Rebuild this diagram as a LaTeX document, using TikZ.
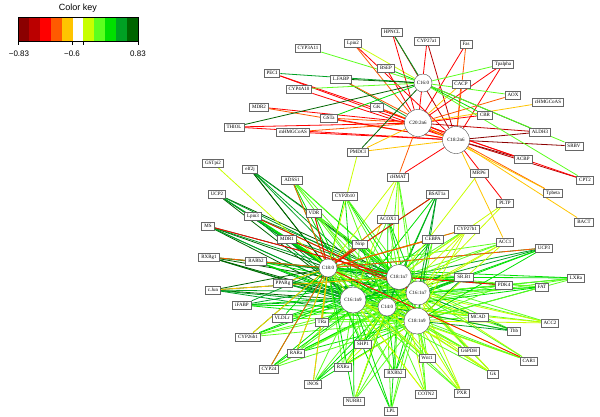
\documentclass[tikz,border=0pt]{standalone}
\usepackage{fontspec}
\setmainfont{Liberation Serif}
\setsansfont{Liberation Sans}
\usetikzlibrary{backgrounds}
\definecolor{kA}{HTML}{8B0000}
\definecolor{kB}{HTML}{BB0000}
\definecolor{kC}{HTML}{FF0000}
\definecolor{kD}{HTML}{FF5A00}
\definecolor{kE}{HTML}{FFC400}
\definecolor{kF}{HTML}{FFFFFF}
\definecolor{kG}{HTML}{C8FF00}
\definecolor{kH}{HTML}{5CFF1E}
\definecolor{kI}{HTML}{00E000}
\definecolor{kJ}{HTML}{00A024}
\definecolor{kK}{HTML}{006400}
\tikzset{
  hub/.style={circle, draw=black!70, fill=white, inner sep=0pt, font=\fontsize{5}{6}\selectfont},
  gene/.style={draw=black!60, line width=0.9pt, fill=white, inner xsep=2.5pt, inner ysep=0.8pt, minimum height=8pt, font=\fontsize{5}{6}\selectfont},
  link/.style={line width=0.8pt},
  keytext/.style={font=\sffamily\fontsize{8}{9}\selectfont},
}
\begin{document}
\begin{tikzpicture}[x=1pt,y=-1pt]
  \useasboundingbox (0,0) rectangle (600,416);

  % colour key
  \foreach \i/\c in {0/kA,1/kB,2/kC,3/kD,4/kE,5/kF,6/kG,7/kH,8/kI,9/kJ,10/kK}
    \fill[fill=\c] ({18+\i*120/11},17) rectangle ({18+(\i+1)*120/11},41);
  \draw[line width=0.5pt] (18,17) rectangle (138,41);
  \foreach \x in {18,72.55,83.45,138}
    \draw[line width=0.5pt] (\x,41) -- (\x,45);
  \node[font=\sffamily\fontsize{9}{10}\selectfont] (keytitle) at (78,8) {Color key};
  \node[keytext] (keylow) at (19,54) {−0.83};
  \node[keytext] (keymid) at (72,54) {−0.6};
  \node[keytext] (keyhigh) at (138,54) {0.83};

  % fatty acids
  \node[hub, minimum size=18pt] (h160) at (423,83) {C16:0};
  \node[hub, minimum size=27pt] (h202) at (418,123) {C20:2n6};
  \node[hub, minimum size=27pt] (h182) at (456,140) {C18:2n6};
  \node[hub, minimum size=18pt] (h180) at (328,268) {C18:0};
  \node[hub, minimum size=25pt] (h181a) at (399,277) {C18:1n7};
  \node[hub, minimum size=26pt] (h161n9) at (353,300) {C16:1n9};
  \node[hub, minimum size=18pt] (h140) at (387,307) {C14:0};
  \node[hub, minimum size=24pt] (h161n7) at (418,293) {C16:1n7};
  \node[hub, minimum size=26pt] (h181n9) at (417,321) {C18:1n9};

  % genes
  \foreach \n/\x/\y/\t in {
    cyp3a11/308/48/CYP3A11, lpin2/353/43/Lpin2, hpncl/392/32/HPNCL,
    cyp27a1/427/41/CYP27a1, fas/466/44/Fas, bsep/386/68/BSEP,
    peci/272/73/PECI, lfabp/341/79/L.FABP, cyp4a10/299/89/CYP4A10,
    tpalpha/503/64/Tpalpha, cacp/461/84/CACP, aox/513/95/AOX,
    chmgcoas/548/102/cHMGCoAS, mdr2/259/107/MDR2, gk/377/107/GK,
    gsta/329/118/GSTa, cbr/485/115/CBR, thiol/234/127/THIOL,
    mhmgcoas/293/132/mHMGCoAS, aldh3/540/132/ALDH3, srbv/574/146/SRBV,
    pmdci/358/152/PMDCI, acbp/523/159/ACBP, gstpi2/213/163/GSTpi2,
    eif2j/250/169/eIf2j, mrp6/479/173/MRP6, chmat/398/177/cHMAT,
    cpt2/585/180/CPT2, adss1/292/180/ADSS1, tpbeta/553/193/Tpbeta,
    bsat1a/437/194/BSAT1a, ucp2/217/194/UCP2, cyp2b10/345/196/CYP2b10,
    pltp/505/203/PLTP, vdr/314/213/VDR, lpin3/253/216/Lpin3,
    acox1/388/219/ACOX1, bact/584/222/BACT, ms/208/226/MS,
    cyp27b1/467/229/CYP27b1, cebpa/433/239/CEBPA, mdr1/287/239/MDR1,
    acc1/505/242/ACC1, nrip/360/244/Nrip, ucp3/544/248/UCP3,
    rxrg1/209/257/RXRg1, rarb2/256/261/RARb2, srb1/464/277/SR.B1,
    lxra/576/278/LXRa, pparg/283/283/PPARg, pdk4/504/285/PDK4,
    fat/542/287/FAT, cjun/213/290/c.Jun, ifabp/242/305/iFABP,
    mcad/478/317/MCAD, vldlr/282/318/VLDLr, tra/322/322/TRa,
    acc2/550/323/ACC2, thb/514/331/Thb, cyp26b1/248/337/CYP26b1,
    shp1/363/344/SHP1, g6pdh/469/351/G6PDH, rara/296/353/RARa,
    wnt1/427/358/Wnt1, car1/529/361/CAR1, rxra/343/367/RXRa,
    cyp24/269/369/CYP24, rxrb2/395/373/RXRb2, gk2/493/374/Gk,
    inos/313/384/iNOS, pxr/462/393/PXR, cotn2/426/394/COTN2,
    nurr1/354/401/NURR1, lpl/391/411/LPL}
    \node[gene] (\n) at (\x,\y) {\t};

  \begin{scope}[on background layer]
    % upper cluster
    \foreach \g/\h/\c in {
      cyp3a11/h160/kH, lpin2/h160/kG, lpin2/h202/kD, lpin2/h182/kC,
      hpncl/h202/kC, hpncl/h182/kB, hpncl/h160/kJ,
      cyp27a1/h202/kC, cyp27a1/h182/kB, fas/h202/kC, fas/h182/kD,
      bsep/h160/kI, bsep/h202/kC,
      peci/h160/kJ, peci/h202/kC, peci/h182/kC,
      lfabp/h160/kK, lfabp/h202/kJ, lfabp/h182/kD,
      cyp4a10/h160/kH, cyp4a10/h182/kC,
      mdr2/h202/kC, mdr2/h182/kD,
      thiol/h160/kK, thiol/h202/kC, thiol/h182/kC,
      gsta/h160/kI, gsta/h202/kD, gsta/h182/kC,
      mhmgcoas/h202/kD, mhmgcoas/h182/kC, gk/h182/kC, gk/h202/kD,
      pmdci/h160/kK, pmdci/h202/kE, pmdci/h182/kE,
      tpalpha/h160/kH, tpalpha/h182/kC, tpalpha/h202/kC,
      cacp/h182/kD, cacp/h202/kE, aox/h160/kH, aox/h202/kD,
      chmgcoas/h202/kE, cbr/h160/kI, cbr/h202/kC,
      aldh3/h182/kA, aldh3/h202/kB, aldh3/h160/kK,
      srbv/h182/kA, srbv/h160/kH, acbp/h182/kA, acbp/h202/kC,
      cpt2/h182/kB, cpt2/h160/kH, cpt2/h202/kC,
      tpbeta/h182/kD, tpbeta/h202/kE, bact/h182/kE,
      pltp/h182/kC, chmat/h182/kC, chmat/h202/kD, acc1/h182/kE}
      \draw[link, draw=\c] (\g) -- (\h);
    % lower cluster
    \foreach \g/\ca/\cb in {
      eif2j/kK/kJ, adss1/kI/kH, ucp2/kK/kJ, lpin3/kJ/kI, vdr/kI/kH,
      ms/kK/kJ, mdr1/kJ/kI, rxrg1/kJ/kK, rarb2/kJ/kI, pparg/kI/kJ,
      cjun/kK/kJ, ifabp/kJ/kI, vldlr/kI/kH, tra/kI/kH, cyp26b1/kI/kH,
      rara/kH/kI, cyp24/kI/kH, inos/kH/kI, shp1/kH/kI, rxra/kH/kG,
      nurr1/kI/kH, rxrb2/kH/kI, lpl/kI/kH, wnt1/kG/kH, cotn2/kG/kH,
      pxr/kH/kG, gk2/kH/kG, g6pdh/kG/kH, car1/kG/kH, mcad/kG/kH,
      thb/kH/kJ, acc2/kH/kG, fat/kH/kI, pdk4/kI/kH, lxra/kI/kH,
      srb1/kI/kJ, ucp3/kJ/kI, acc1/kH/kG, cyp27b1/kH/kG, cebpa/kI/kH,
      nrip/kH/kI, acox1/kH/kI, bsat1a/kI/kJ, chmat/kG/kH, cyp2b10/kI/kH} {
      \foreach \h in {h180,h161n9,h181a}
        \draw[link, draw=\ca] (\g) -- (\h);
      \foreach \h in {h140,h161n7,h181n9}
        \draw[link, draw=\cb] (\g) -- (\h);
    }
    \foreach \g/\h/\c in {
      gstpi2/h180/kG, adss1/h180/kD, ms/h181a/kC, lpin3/h161n7/kC,
      vdr/h180/kC, mdr1/h161n7/kC, rxrg1/h180/kD, pparg/h180/kE,
      cjun/h181a/kE, cyp26b1/h180/kE, inos/h180/kE, rara/h180/kE,
      tra/h180/kE, cyp24/h180/kD, nurr1/h140/kG, car1/h180/kC,
      pdk4/h181a/kC, ucp3/h180/kD, cyp27b1/h180/kD, cebpa/h180/kD,
      nrip/h180/kC, acox1/h180/kD, bsat1a/h180/kC, mrp6/h181a/kG,
      pltp/h181a/kG, pltp/h161n7/kG, pmdci/h180/kG}
      \draw[link, draw=\c] (\g) -- (\h);
  \end{scope}
\end{tikzpicture}
\end{document}
